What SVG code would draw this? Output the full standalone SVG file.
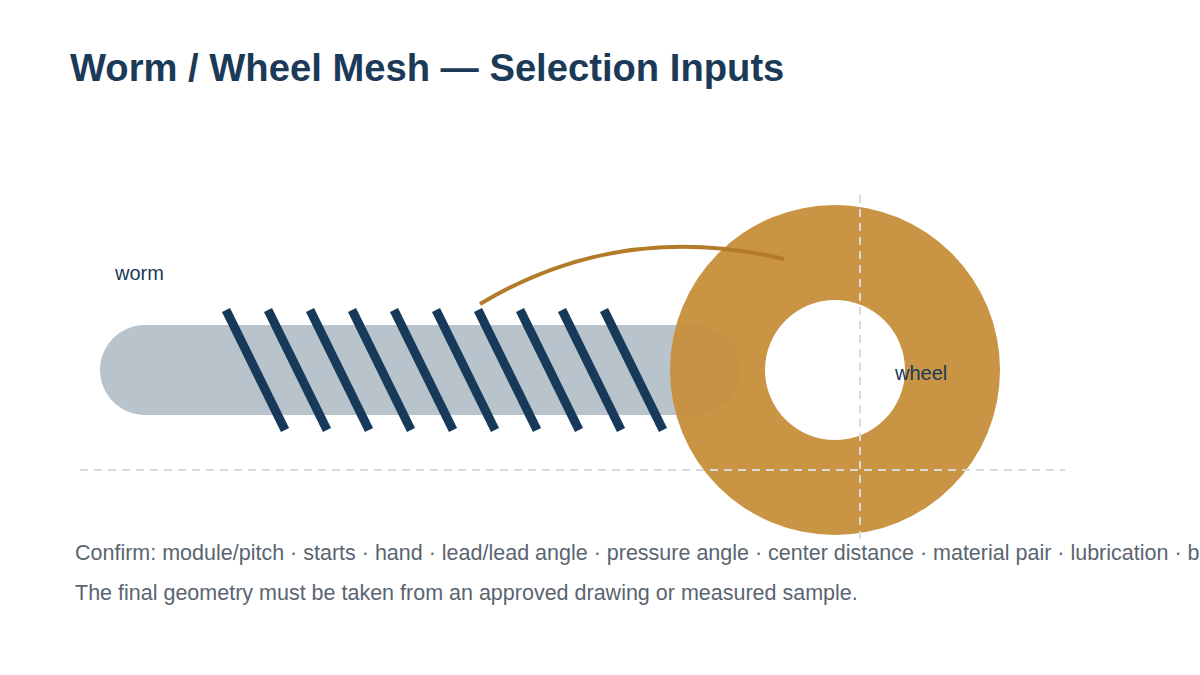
<svg xmlns="http://www.w3.org/2000/svg" width="1200" height="675" viewBox="0 0 1200 675">
<style>
.t{font-family:"Liberation Sans",Arial,sans-serif}
.thread{stroke:#173a5a;stroke-width:9}
.dash{stroke:#d9d9d9;stroke-width:2;stroke-dasharray:8 6;fill:none}
.lbl{font-size:20px;fill:#1b3a57}
.note{font-size:21.5px;fill:#5a6570}
</style>
<rect width="1200" height="675" fill="#fff"/>
<text class="t" x="70" y="81" font-size="38.2" font-weight="bold" fill="#1b3a57">Worm / Wheel Mesh — Selection Inputs</text>
<g id="worm">
<rect x="100" y="325" width="640" height="90" rx="45" fill="#b9c3cc"/>
<g class="thread">
<line x1="226" y1="310" x2="285" y2="430"/><line x1="268" y1="310" x2="327" y2="430"/>
<line x1="310" y1="310" x2="369" y2="430"/><line x1="352" y1="310" x2="411" y2="430"/>
<line x1="394" y1="310" x2="453" y2="430"/><line x1="436" y1="310" x2="495" y2="430"/>
<line x1="478" y1="310" x2="537" y2="430"/><line x1="520" y1="310" x2="579" y2="430"/>
<line x1="562" y1="310" x2="621" y2="430"/><line x1="604" y1="310" x2="663" y2="430"/>
</g>
<text class="t lbl" x="115" y="280">worm</text>
</g>
<g id="wheel">
<path d="M670,370a165,165 0 1,0 330,0a165,165 0 1,0 -330,0ZM765,370a70,70 0 1,1 140,0a70,70 0 1,1 -140,0Z" fill="#c68e3a" fill-rule="evenodd" opacity="0.95"/>
<text class="t lbl" x="895" y="380">wheel</text>
</g>
<g id="connectors">
<line class="dash" x1="80" y1="470" x2="1065" y2="470"/>
<line class="dash" x1="860" y1="195" x2="860" y2="540"/>
<path d="M480,304Q620,220 784,259" fill="none" stroke="#b37a27" stroke-width="4"/>
</g>
<text class="t note" x="75" y="560">Confirm: module/pitch · starts · hand · lead/lead angle · pressure angle · center distance · material pair · lubrication · b</text>
<text class="t note" x="75" y="600">The final geometry must be taken from an approved drawing or measured sample.</text>
</svg>
